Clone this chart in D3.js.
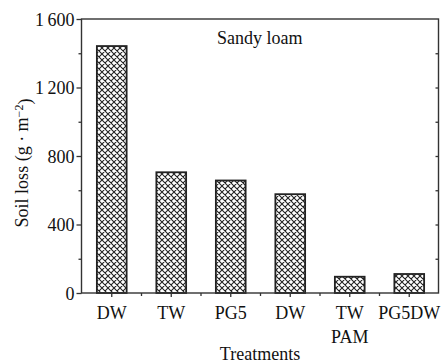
<!DOCTYPE html>
<html>
<head>
<meta charset="utf-8">
<script src="https://cdn.jsdelivr.net/npm/d3@7"></script>
<style>
  body { margin: 0; background: #fff; }
  text { font-family: "Liberation Serif", "Times New Roman", serif; fill: #111; }
</style>
</head>
<body>
<div class="chart"></div>
<script>
// Data
const treatments = ["DW", "TW", "PG5", "DW", "TW\nPAM", "PG5DW"];
const soilLoss = [1442, 705, 657, 577, 95, 111];
const yMajorTicks = [0, 400, 800, 1200, 1600];
const yMinorTicks = [200, 600, 1000, 1400];

const W = 446, H = 364;
const margin = { top: 19, right: 7.5, bottom: 71, left: 81.5 };

const svg = d3
  .select(".chart")
  .append("svg")
  .attr("width", W)
  .attr("height", H);

// crosshatch fill for the bars
const defs = svg.append("defs");
const pat = defs
  .append("pattern")
  .attr("id", "hatch")
  .attr("patternUnits", "userSpaceOnUse")
  .attr("width", 6)
  .attr("height", 6);
pat.append("rect").attr("width", 6).attr("height", 6).attr("fill", "#fff");
pat
  .append("path")
  .attr("d", "M0,0L6,6M0,6L6,0M-1,1L1,-1M5,7L7,5M-1,5L1,7M5,-1L7,1")
  .attr("stroke", "#222")
  .attr("stroke-width", 1.1);

const x0 = margin.left, x1 = W - margin.right;
const y0 = H - margin.bottom, y1 = margin.top;

// scales
const x = d3
  .scaleBand()
  .domain(d3.range(treatments.length))
  .range([x0 + 0.5, x1 + 0.5])
  .paddingInner(0.5)
  .paddingOuter(0.25);

const y = d3.scaleLinear().domain([0, 1600]).range([y0, y1]);

// bars
svg
  .selectAll(".bar")
  .data(soilLoss)
  .join("rect")
  .attr("class", "bar")
  .attr("x", (d, i) => x(i))
  .attr("y", (d) => y(d))
  .attr("width", x.bandwidth())
  .attr("height", (d) => y0 - y(d))
  .attr("fill", "url(#hatch)")
  .attr("stroke", "#222")
  .attr("stroke-width", 1.8);

// frame
svg
  .append("rect")
  .attr("x", x0)
  .attr("y", y1)
  .attr("width", x1 - x0)
  .attr("height", y0 - y1)
  .attr("fill", "none")
  .attr("stroke", "#333")
  .attr("stroke-width", 1.4);

const fmt = (d) => (d >= 1000 ? d3.format("d")(d).replace(/^(\d)/, "$1\u2009") : d);

// left axis: major + minor ticks
const yAxis = svg
  .append("g")
  .attr("transform", `translate(${x0},0)`)
  .call(d3.axisLeft(y).tickValues(yMajorTicks).tickSize(5).tickPadding(2).tickFormat(fmt));
yAxis.select(".domain").remove();
yAxis.selectAll("line").attr("stroke", "#333").attr("stroke-width", 1.3);
yAxis.selectAll("text").style("font-size", "18px").attr("fill", "#111").attr("dy", "0.34em");

const yMinor = svg
  .append("g")
  .attr("transform", `translate(${x0},0)`)
  .call(d3.axisLeft(y).tickValues(yMinorTicks).tickSize(3).tickFormat(""));
yMinor.select(".domain").remove();
yMinor.selectAll("line").attr("stroke", "#333").attr("stroke-width", 1.3);

// right axis: inward ticks only
const yRight = svg
  .append("g")
  .attr("transform", `translate(${x1},0)`)
  .call(d3.axisLeft(y).tickValues(yMinorTicks.concat([400, 800, 1200])).tickSize(3).tickFormat(""));
yRight.select(".domain").remove();
yRight.selectAll("line").attr("stroke", "#333").attr("stroke-width", 1.3);

// bottom axis: major ticks at bars, minor between
const xAxis = svg
  .append("g")
  .attr("transform", `translate(0,${y0})`)
  .call(
    d3
      .axisBottom(x)
      .tickSize(4)
      .tickFormat("")
  );
xAxis.select(".domain").remove();
xAxis.selectAll("line").attr("stroke", "#333").attr("stroke-width", 1.3);

const step = x.step();
const xMinor = svg
  .append("g")
  .attr("transform", `translate(0,${y0})`)
  .selectAll("line")
  .data(d3.range(1, treatments.length))
  .join("line")
  .attr("x1", (i) => x(i) - (step - x.bandwidth()) / 2)
  .attr("x2", (i) => x(i) - (step - x.bandwidth()) / 2)
  .attr("y1", 0)
  .attr("y2", 3)
  .attr("stroke", "#333")
  .attr("stroke-width", 1.3);

// category labels (may be two lines)
svg
  .append("g")
  .selectAll("text")
  .data(treatments)
  .join("text")
  .attr("text-anchor", "middle")
  .style("font-size", "18px")
  .each(function (d, i) {
    const t = d3.select(this);
    d.split("\n").forEach((line, k) => {
      t.append("tspan")
        .attr("x", x(i) + x.bandwidth() / 2)
        .attr("y", 319 + k * 24)
        .text(line);
    });
  });

// axis titles
svg
  .append("text")
  .attr("x", (x0 + x1) / 2)
  .attr("y", 360)
  .attr("text-anchor", "middle")
  .style("font-size", "18px")
  .text("Treatments");

const yTitle = svg
  .append("text")
  .attr("transform", `translate(28,163) rotate(-90)`)
  .attr("text-anchor", "middle")
  .style("font-size", "18px");
yTitle.append("tspan").text("Soil loss (g \u00b7 m");
yTitle.append("tspan").attr("dy", "-0.45em").style("font-size", "12px").text("\u22122");
yTitle.append("tspan").attr("dy", "0.45em").text(")");

// panel label
svg
  .append("text")
  .attr("x", 217)
  .attr("y", 44)
  .style("font-size", "18px")
  .text("Sandy loam");
</script>
</body>
</html>
